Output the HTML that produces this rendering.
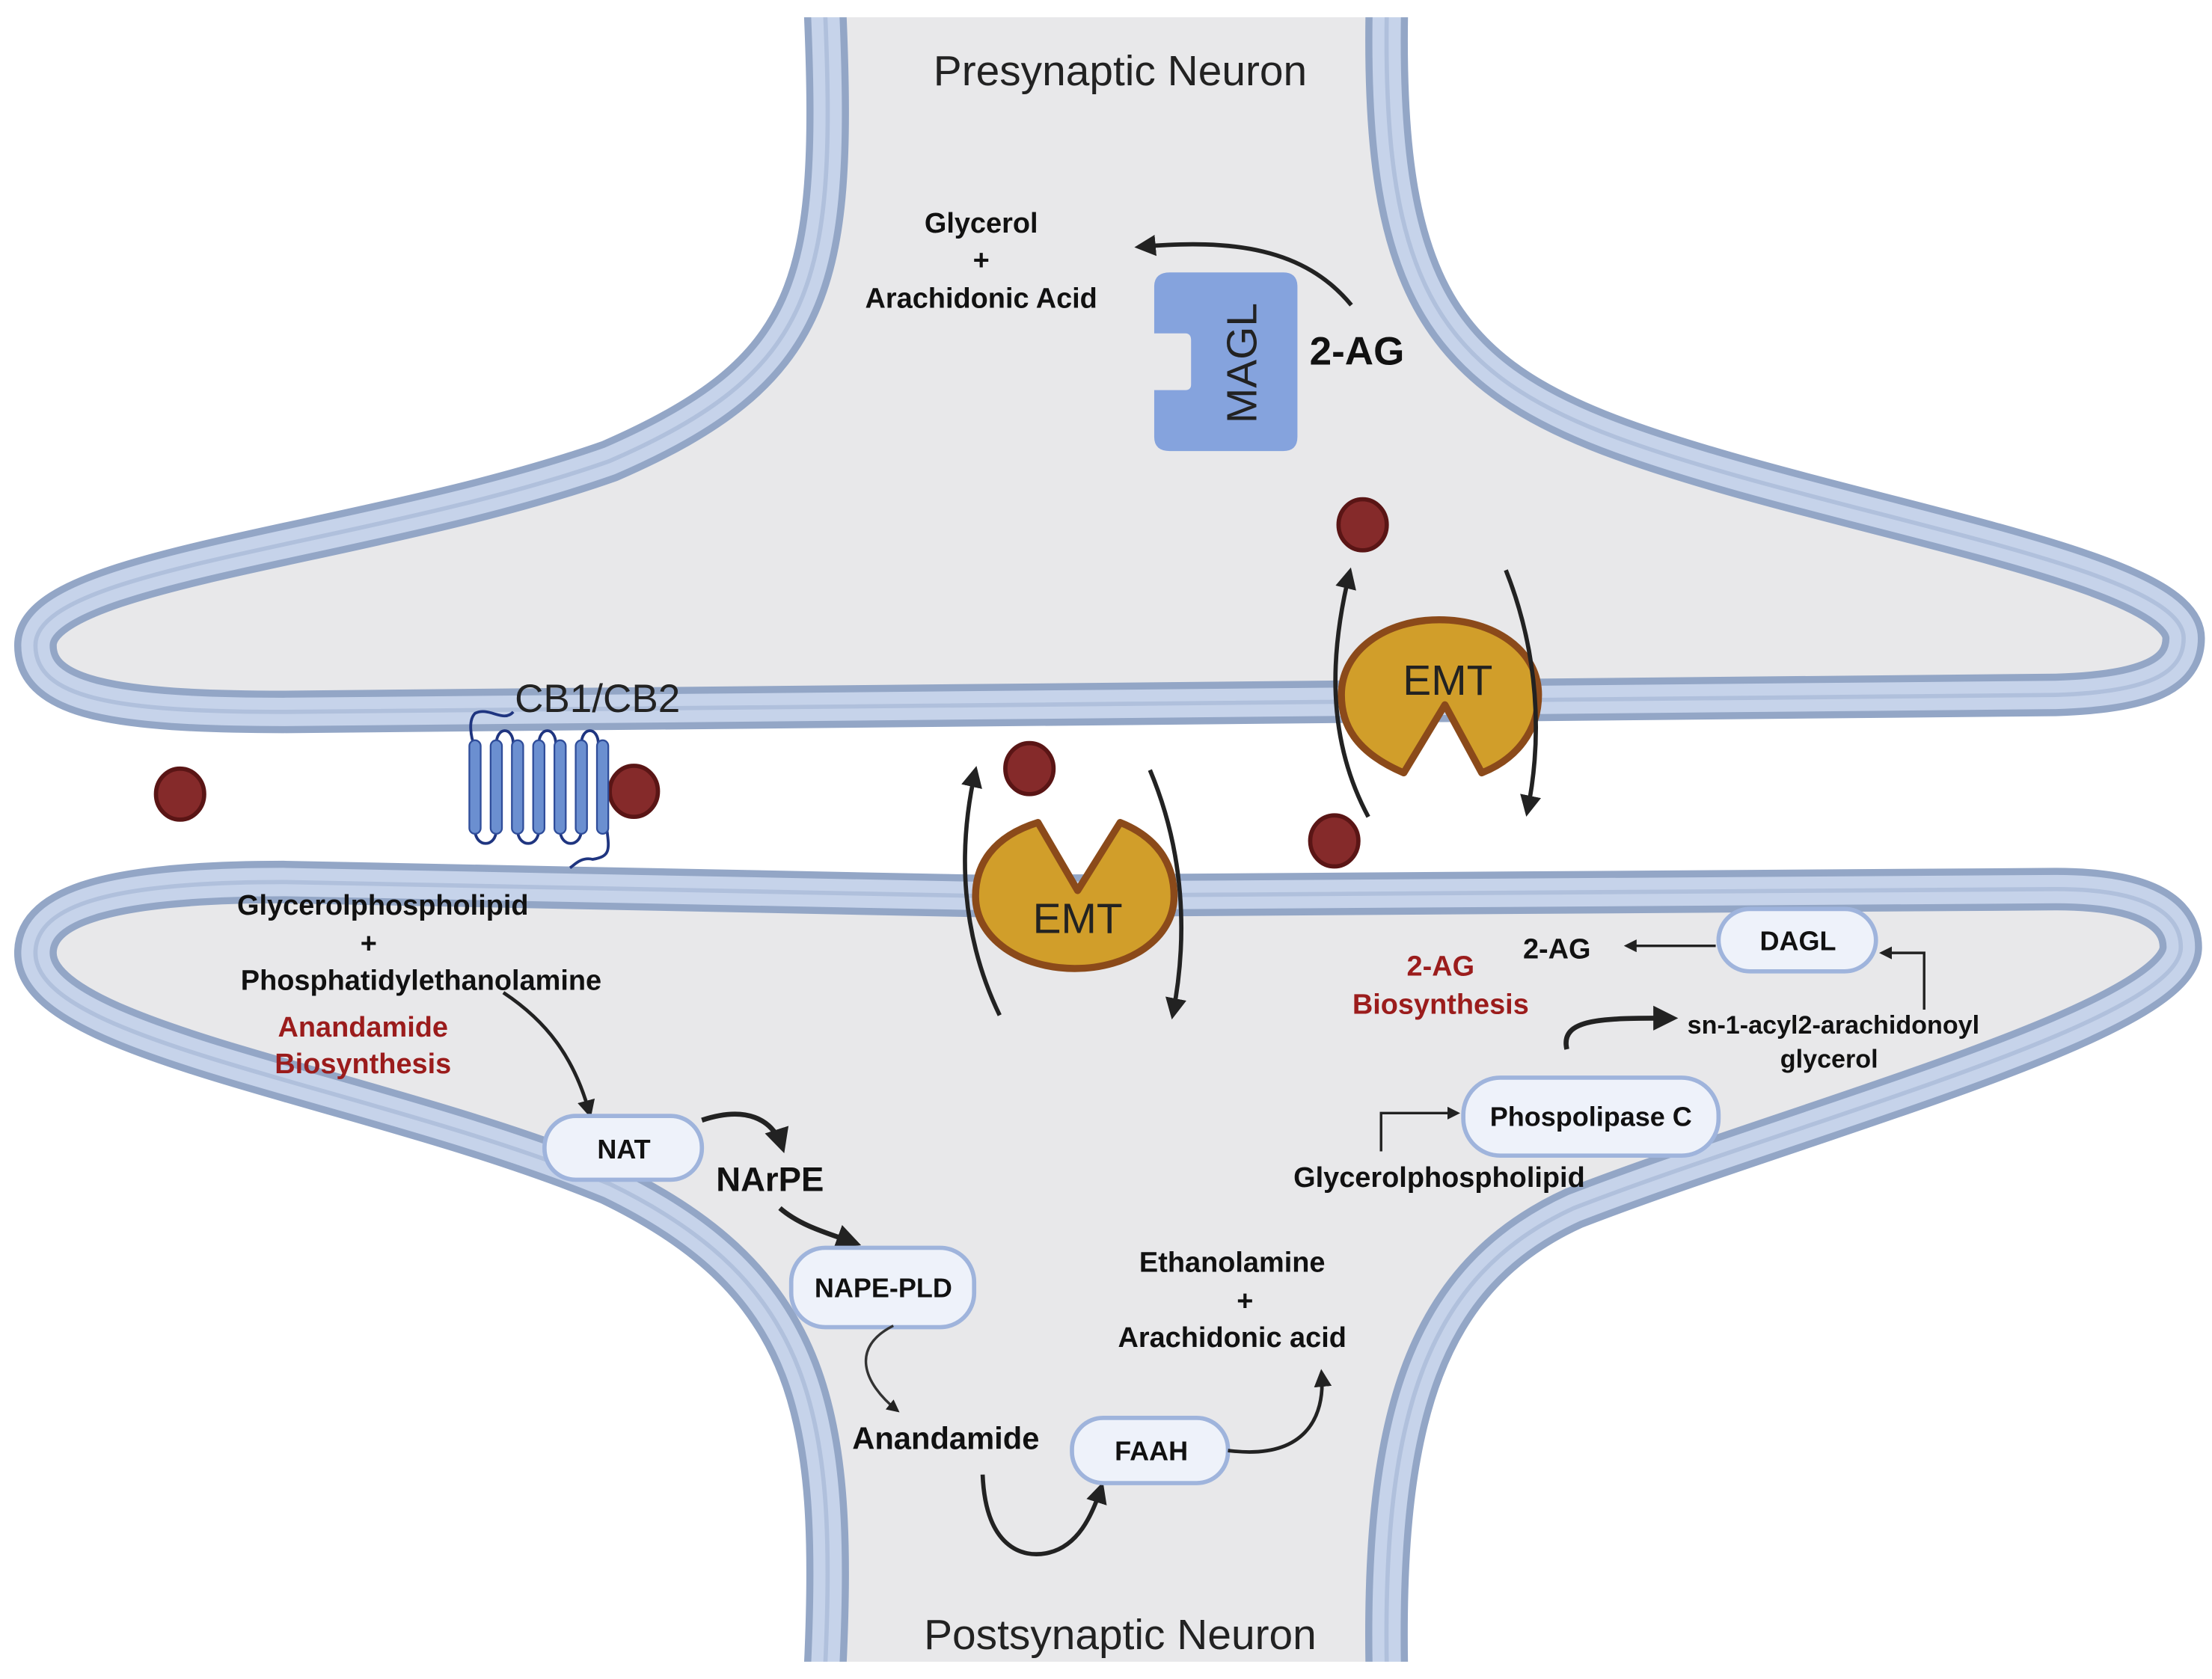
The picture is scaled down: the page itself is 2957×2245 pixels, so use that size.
<!DOCTYPE html>
<html><head><meta charset="utf-8"><style>
html,body{margin:0;padding:0;background:#fff;}
svg{display:block;}
.t{font-family:"Liberation Sans Narrow","Liberation Sans",sans-serif;font-weight:bold;fill:#111;}
.r{fill:#9b1c1c;}
.h{font-family:"Liberation Sans",sans-serif;fill:#222;}
</style></head><body>
<svg width="2957" height="2245" viewBox="0 0 1560 1184" xmlns="http://www.w3.org/2000/svg">
<defs>
<marker id="a" viewBox="0 0 10 10" refX="8" refY="5" markerWidth="5" markerHeight="5" orient="auto"><path d="M0,0 L10,5 L0,10 Z" fill="#222"/></marker>
<marker id="s" viewBox="0 0 10 10" refX="8" refY="5" markerWidth="8" markerHeight="8" orient="auto"><path d="M0,0 L10,5 L0,10 Z" fill="#222"/></marker>
</defs>
<rect width="1560" height="1184" fill="#fff"/>
<!-- presynaptic -->
<path d="M582,10 C590,200 575,262 430,325 C260,385 25,400 25,455 C25,492 80,502 200,502 L1450,490 C1515,488 1540,475 1540,450 C1540,400 1300,365 1150,312 C1015,265 975,200 978,10 Z" fill="#e8e8ea"/>
<path d="M582,10 C590,200 575,262 430,325 C260,385 25,400 25,455 C25,492 80,502 200,502 L1450,490 C1515,488 1540,475 1540,450 C1540,400 1300,365 1150,312 C1015,265 975,200 978,10" fill="none" stroke="#93a6c6" stroke-width="30"/>
<path d="M582,10 C590,200 575,262 430,325 C260,385 25,400 25,455 C25,492 80,502 200,502 L1450,490 C1515,488 1540,475 1540,450 C1540,400 1300,365 1150,312 C1015,265 975,200 978,10" fill="none" stroke="#c6d3ea" stroke-width="20"/>
<path d="M582,10 C590,200 575,262 430,325 C260,385 25,400 25,455 C25,492 80,502 200,502 L1450,490 C1515,488 1540,475 1540,450 C1540,400 1300,365 1150,312 C1015,265 975,200 978,10" fill="none" stroke="#b0c0dc" stroke-width="3"/>
<rect x="560" y="0" width="440" height="12" fill="#fff"/>
<!-- postsynaptic -->
<path d="M582,1175 C590,1000 575,905 430,835 C260,765 25,735 25,672 C25,638 80,622 200,622 L700,632 L1450,627 C1515,627 1538,645 1538,668 C1538,720 1270,790 1110,852 C1005,900 975,1000 978,1175 Z" fill="#e8e8ea"/>
<path d="M582,1175 C590,1000 575,905 430,835 C260,765 25,735 25,672 C25,638 80,622 200,622 L700,632 L1450,627 C1515,627 1538,645 1538,668 C1538,720 1270,790 1110,852 C1005,900 975,1000 978,1175" fill="none" stroke="#93a6c6" stroke-width="30"/>
<path d="M582,1175 C590,1000 575,905 430,835 C260,765 25,735 25,672 C25,638 80,622 200,622 L700,632 L1450,627 C1515,627 1538,645 1538,668 C1538,720 1270,790 1110,852 C1005,900 975,1000 978,1175" fill="none" stroke="#c6d3ea" stroke-width="20"/>
<path d="M582,1175 C590,1000 575,905 430,835 C260,765 25,735 25,672 C25,638 80,622 200,622 L700,632 L1450,627 C1515,627 1538,645 1538,668 C1538,720 1270,790 1110,852 C1005,900 975,1000 978,1175" fill="none" stroke="#b0c0dc" stroke-width="3"/>
<rect x="560" y="1172" width="440" height="12" fill="#fff"/>

<text class="h" x="790" y="60" font-size="30" text-anchor="middle">Presynaptic Neuron</text>
<text class="h" x="790" y="1163" font-size="30" text-anchor="middle">Postsynaptic Neuron</text>

<!-- MAGL -->
<path d="M825,192 H905 Q915,192 915,202 V308 Q915,318 905,318 H825 Q814,318 814,308 V275 H836 Q840,275 840,271 V240 Q840,235 836,235 H814 V202 Q814,192 825,192 Z" fill="#85a3dd"/>
<text class="h" x="0" y="0" font-size="30" text-anchor="middle" fill="#111" transform="translate(886,256) rotate(-90)">MAGL</text>
<path d="M953,215 C920,175 870,168 803,174" fill="none" stroke="#222" stroke-width="3" marker-end="url(#a)"/>
<text class="t" x="957" y="257" font-size="28" text-anchor="middle">2-AG</text>
<g text-anchor="middle" font-size="20" class="t">
<text class="t" x="692" y="164">Glycerol</text>
<text class="t" x="692" y="190">+</text>
<text class="t" x="692" y="217">Arachidonic Acid</text>
</g>

<!-- dots -->
<g fill="#852a2a" stroke="#5a1515" stroke-width="3">
<ellipse cx="127" cy="560" rx="17" ry="18"/>
<ellipse cx="447" cy="558" rx="17" ry="18"/>
<ellipse cx="726" cy="542" rx="17" ry="18"/>
<ellipse cx="961" cy="370" rx="17" ry="18"/>
<ellipse cx="941" cy="593" rx="17" ry="18"/>
</g>

<!-- CB1/CB2 -->
<g fill="none" stroke="#1f3580" stroke-width="2">
<path d="M362,502 C355,510 345,498 335,503 C330,508 332,520 335,527"/>
<path d="M350,525 C350,512 362,512 362,525 M380,525 C380,512 392,512 392,525 M410,525 C410,512 422,512 422,525"/>
<path d="M335,585 C335,598 350,598 350,585 M365,585 C365,598 380,598 380,585 M395,585 C395,598 410,598 410,585"/>
<path d="M428,585 C430,600 430,604 418,606 C410,604 405,610 402,612"/>
</g>
<g fill="#6b8fd0" stroke="#2f4d9a" stroke-width="1.2">
<rect x="331" y="522" width="8" height="66" rx="4"/>
<rect x="346" y="522" width="8" height="66" rx="4"/>
<rect x="361" y="522" width="8" height="66" rx="4"/>
<rect x="376" y="522" width="8" height="66" rx="4"/>
<rect x="391" y="522" width="8" height="66" rx="4"/>
<rect x="406" y="522" width="8" height="66" rx="4"/>
<rect x="421" y="522" width="8" height="66" rx="4"/>
</g>
<text class="h" x="363" y="502" font-size="28" fill="#111">CB1/CB2</text>

<!-- EMT upper -->
<path d="M990,545 C955,530 946,510 946,490 C946,458 978,437 1015,437 C1053,437 1085,458 1085,490 C1085,515 1070,535 1045,545 L1019,497 Z" fill="#d19e2a" stroke="#8b4a1a" stroke-width="5" stroke-linejoin="round"/>
<text class="h" x="1021" y="490" font-size="30" text-anchor="middle" fill="#111">EMT</text>
<path d="M965,576 C935,520 938,460 952,403" fill="none" stroke="#222" stroke-width="3" marker-end="url(#a)"/>
<path d="M1062,402 C1085,460 1088,520 1077,573" fill="none" stroke="#222" stroke-width="3" marker-end="url(#a)"/>

<!-- EMT lower -->
<path d="M732,580 C700,590 688,610 688,632 C688,662 720,683 758,683 C796,683 828,662 828,632 C828,608 815,590 790,580 L760,628 Z" fill="#d19e2a" stroke="#8b4a1a" stroke-width="5" stroke-linejoin="round"/>
<text class="h" x="760" y="658" font-size="30" text-anchor="middle" fill="#111">EMT</text>
<path d="M705,716 C678,660 675,600 688,543" fill="none" stroke="#222" stroke-width="3" marker-end="url(#a)"/>
<path d="M811,543 C835,600 838,660 827,716" fill="none" stroke="#222" stroke-width="3" marker-end="url(#a)"/>

<!-- left pathway -->
<g text-anchor="middle" font-size="20">
<text class="t" x="270" y="645">Glycerolphospholipid</text>
<text class="t" x="260" y="672">+</text>
<text class="t" x="297" y="698">Phosphatidylethanolamine</text>
<text class="t r" x="256" y="731">Anandamide</text>
<text class="t r" x="256" y="757">Biosynthesis</text>
</g>
<path d="M355,700 C385,720 405,745 416,786" fill="none" stroke="#222" stroke-width="2.5" marker-end="url(#a)"/>
<rect x="384" y="787" width="111" height="45" rx="22" fill="#eef2fa" stroke="#9fb4dc" stroke-width="3"/>
<text class="t" x="440" y="817" font-size="19" text-anchor="middle">NAT</text>
<path d="M495,790 C525,780 545,788 552,810" fill="none" stroke="#222" stroke-width="3.5" marker-end="url(#a)"/>
<text class="t" x="543" y="840" font-size="24" text-anchor="middle">NArPE</text>
<path d="M550,852 C565,865 585,870 604,877" fill="none" stroke="#222" stroke-width="3.5" marker-end="url(#a)"/>
<rect x="558" y="880" width="129" height="56" rx="24" fill="#eef2fa" stroke="#9fb4dc" stroke-width="3"/>
<text class="t" x="623" y="915" font-size="19" text-anchor="middle">NAPE-PLD</text>
<path d="M630,935 C600,950 608,975 633,995" fill="none" stroke="#333" stroke-width="1.8" marker-end="url(#a)"/>
<text class="t" x="667" y="1022" font-size="22" text-anchor="middle">Anandamide</text>
<path d="M693,1040 C695,1090 720,1100 740,1095 C760,1090 770,1070 777,1048" fill="none" stroke="#222" stroke-width="3" marker-end="url(#a)"/>
<rect x="756" y="1000" width="110" height="46" rx="22" fill="#eef2fa" stroke="#9fb4dc" stroke-width="3"/>
<text class="t" x="812" y="1030" font-size="19" text-anchor="middle">FAAH</text>
<path d="M866,1023 C920,1030 935,1000 932,968" fill="none" stroke="#222" stroke-width="2.5" marker-end="url(#a)"/>
<g text-anchor="middle" font-size="20">
<text class="t" x="869" y="897">Ethanolamine</text>
<text class="t" x="878" y="924">+</text>
<text class="t" x="869" y="950">Arachidonic acid</text>
</g>

<!-- right pathway -->
<g text-anchor="middle" font-size="20">
<text class="t r" x="1016" y="688">2-AG</text>
<text class="t r" x="1016" y="715">Biosynthesis</text>
<text class="t" x="1098" y="676">2-AG</text>
<text class="t" x="1293" y="729" font-size="18">sn-1-acyl2-arachidonoyl</text>
<text class="t" x="1290" y="753" font-size="18">glycerol</text>
<text class="t" x="1015" y="837">Glycerolphospholipid</text>
</g>
<rect x="1212" y="641" width="111" height="44" rx="22" fill="#eef2fa" stroke="#9fb4dc" stroke-width="3"/>
<text class="t" x="1268" y="670" font-size="19" text-anchor="middle">DAGL</text>
<path d="M1210,667 H1147" fill="none" stroke="#222" stroke-width="1.8" marker-end="url(#a)"/>
<path d="M1357,712 V672 H1327" fill="none" stroke="#222" stroke-width="1.8" marker-end="url(#a)"/>
<path d="M1105,740 C1100,718 1130,718 1180,718" fill="none" stroke="#222" stroke-width="3.5" marker-end="url(#a)"/>
<rect x="1032" y="760" width="180" height="55" rx="26" fill="#eef2fa" stroke="#9fb4dc" stroke-width="3"/>
<text class="t" x="1122" y="794" font-size="19" text-anchor="middle">Phospolipase C</text>
<path d="M974,812 V785 H1028" fill="none" stroke="#222" stroke-width="1.8" marker-end="url(#a)"/>
</svg>
</body></html>
